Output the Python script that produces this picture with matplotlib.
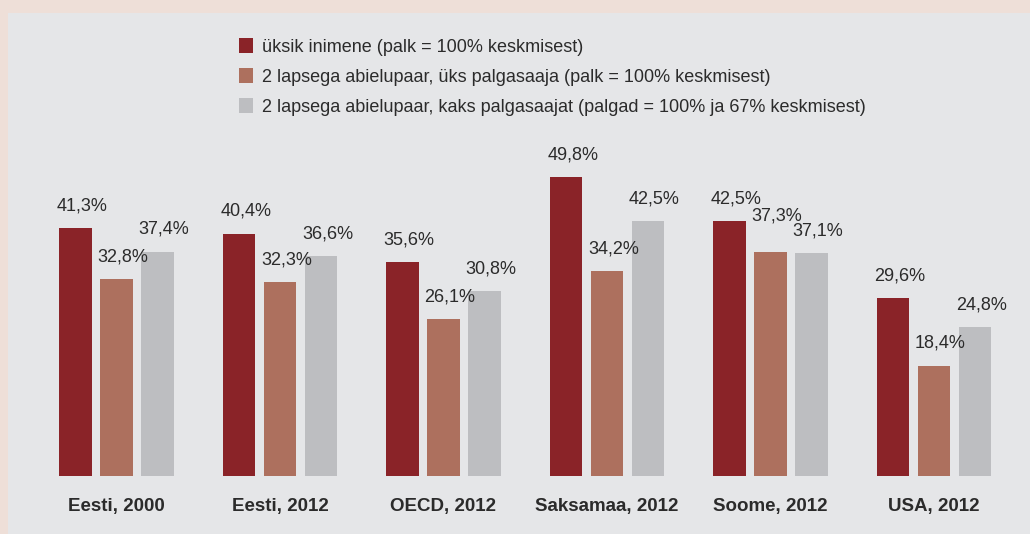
import numpy as np
import matplotlib.pyplot as plt
from matplotlib.patches import Rectangle, Patch

plt.rcParams['font.family'] = ['Liberation Sans', 'DejaVu Sans']

categories = ['Eesti, 2000', 'Eesti, 2012', 'OECD, 2012', 'Saksamaa, 2012', 'Soome, 2012', 'USA, 2012']
single = [41.3, 40.4, 35.6, 49.8, 42.5, 29.6]
one_earner = [32.8, 32.3, 26.1, 34.2, 37.3, 18.4]
two_earners = [37.4, 36.6, 30.8, 42.5, 37.1, 24.8]
series_names = ['üksik inimene (palk = 100% keskmisest)',
                '2 lapsega abielupaar, üks palgasaaja (palk = 100% keskmisest)',
                '2 lapsega abielupaar, kaks palgasaajat (palgad = 100% ja 67% keskmisest)']
colors = ['#8A2328', '#AD705E', '#BDBEC1']
text_col = '#2b2b2b'

W, H = 1030, 534
fig = plt.figure(figsize=(W / 100, H / 100), dpi=100, facecolor='#EEDFD8')
# panel
fig.patches.append(Rectangle((8 / W, 0), 1 - 8 / W, 1 - 13 / H, transform=fig.transFigure,
                             facecolor='#E5E6E8', edgecolor='none', zorder=-5))

base_px = 476
ax = fig.add_axes([8 / W, (H - base_px) / H, 1 - 8 / W, (base_px - 13) / H])
ax.set_zorder(2)
ax.set_facecolor('none')
ax.axis('off')
ppu = 6.0  # pixels per percent
group_px = 163.5
ax.set_ylim(0, (base_px - 13) / ppu)
ax.set_xlim((8 - 116.5) / group_px, (1030 - 116.5) / group_px)

x = np.arange(len(categories))
width = 0.2
step = 0.25
for i, (vals, c) in enumerate(zip([single, one_earner, two_earners], colors)):
    xs = x + (i - 1) * step
    ax.bar(xs, vals, width=width, color=c, edgecolor='none')
    for j, (xi, v) in enumerate(zip(xs, vals)):
        lift = 2.4 if (i == 1 and j == 4) else 0  # Soome label raised in the original
        ax.text(xi + 0.04, v + 2.3 + lift, f'{v:.1f}%'.replace('.', ','), ha='center', va='bottom',
                fontsize=13, color=text_col)

for xi, cat in zip(x, categories):
    ax.text(xi, -5.0, cat, ha='center', va='center', fontsize=13.5, fontweight='bold', color=text_col)

handles = [Patch(facecolor=c, edgecolor='none') for c in colors]
leg = fig.legend(handles, series_names, loc='upper left', bbox_to_anchor=(223 / W, 1 - 22 / H),
                 frameon=False, fontsize=13, handlelength=0.75, handleheight=0.85,
                 handletextpad=0.5, labelspacing=0.7, labelcolor=text_col)
leg.set_zorder(3)

fig.savefig('out.png', dpi=100, facecolor=fig.get_facecolor())
